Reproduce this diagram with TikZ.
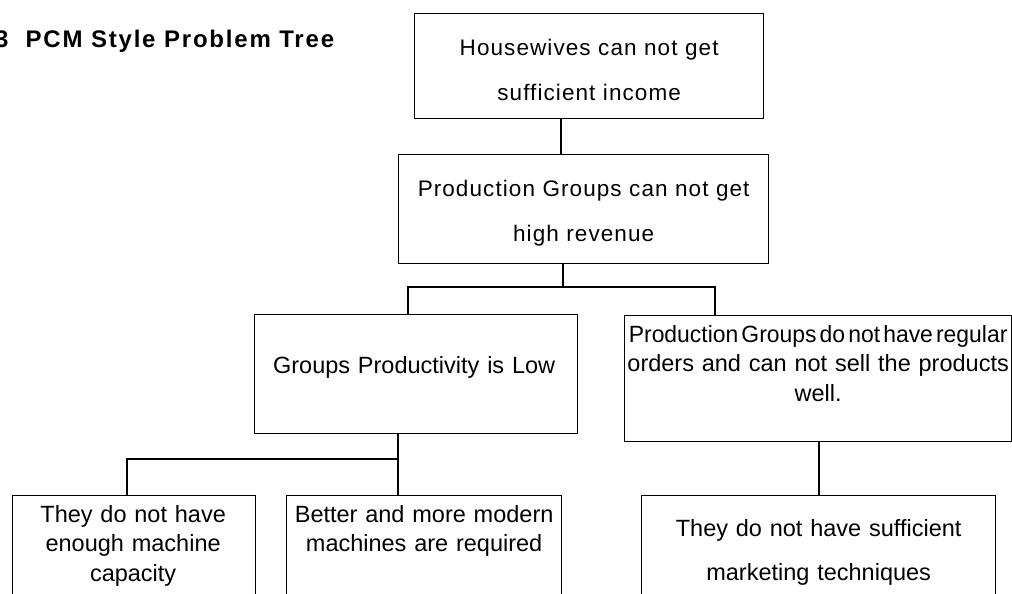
\documentclass[tikz,border=0pt]{standalone}
\usepackage{graphicx}
\usepackage{fontspec}
\setmainfont{Liberation Sans}
\newfontfamily\spacedfont[LetterSpace=4.8]{Liberation Sans}
\newfontfamily\titlefont[LetterSpace=7.5]{Liberation Sans}
\begin{document}
\begin{tikzpicture}[x=1pt,y=-1pt,line width=1.3pt,
  box/.style={draw,rectangle,inner sep=0pt,anchor=north west},
  txt/.style={inner sep=0pt,text width=420pt,align=center,anchor=base},
  body/.style={font=\fontsize{23.5}{29.5}\selectfont},
  spaced/.style={font=\spacedfont\fontsize{22.5}{44.7}\selectfont},
  ttl/.style={inner sep=0pt,font=\titlefont\bfseries\fontsize{24}{26}\selectfont}]
\useasboundingbox (0,0) rectangle (1012,594);
% title
\node[ttl,anchor=base east] (num) at (9,48) {3};
\node[ttl,anchor=base west] (title) at (25,48) {PCM Style Problem Tree};
% boxes
\node[box,minimum width=349pt,minimum height=105pt] (b1) at (414,13) {};
\node[box,minimum width=370pt,minimum height=109pt] (b2) at (398,154) {};
\node[box,minimum width=323pt,minimum height=119pt] (b3) at (254,314) {};
\node[box,minimum width=387pt,minimum height=126pt] (b4) at (624,315) {};
\node[box,minimum width=354pt,minimum height=130pt] (b5) at (641,495) {};
\node[box,minimum width=243pt,minimum height=130pt] (b6) at (12,495) {};
\node[box,minimum width=275pt,minimum height=130pt] (b7) at (286,495) {};
% texts
\node[txt,spaced] (t1) at ([yshift=-42.7pt]b1.north) {Housewives can not get\\sufficient income};
\node[txt,spaced] (t2) at ([yshift=-42.7pt]b2.north) {Production Groups can not get\\high revenue};
\node[txt,body] (t3) at ([xshift=-2pt,yshift=-59pt]b3.north) {Groups Productivity is Low};
\node[txt,body] (t4) at ([yshift=-27pt]b4.north) {\scalebox{0.975}[1]{\spaceskip=3.2pt Production Groups do not have regular}\\orders and can not sell the products\\well.};
\node[txt,body,font=\fontsize{23.5}{43.5}\selectfont] (t5) at ([yshift=-41.7pt]b5.north) {They do not have sufficient\\marketing techniques};
\node[txt,body] (t6) at ([xshift=-1pt,yshift=-27pt]b6.north) {They do not have\\enough machine\\capacity};
\node[txt,body] (t7) at ([yshift=-27pt]b7.north) {Better and more modern\\machines are required};
% connector points
\coordinate (c1) at (561,0);
\coordinate (bus1) at (563,287);
\coordinate (l1) at (408,287);
\coordinate (r1) at (715,287);
\coordinate (bus2) at (398,459);
\coordinate (l2) at (127,459);
\coordinate (c3) at (819,0);
% connectors
\draw (b1.south -| c1) -- (b2.north -| c1);
\draw (b2.south -| bus1) -- (bus1);
\draw (b3.north -| l1) -- (l1) -- (r1) -- (b4.north -| r1);
\draw (b3.south -| bus2) -- (bus2) -- (b7.north -| bus2);
\draw (bus2) -- (l2) -- (b6.north -| l2);
\draw (b4.south -| c3) -- (b5.north -| c3);
\end{tikzpicture}
\end{document}
